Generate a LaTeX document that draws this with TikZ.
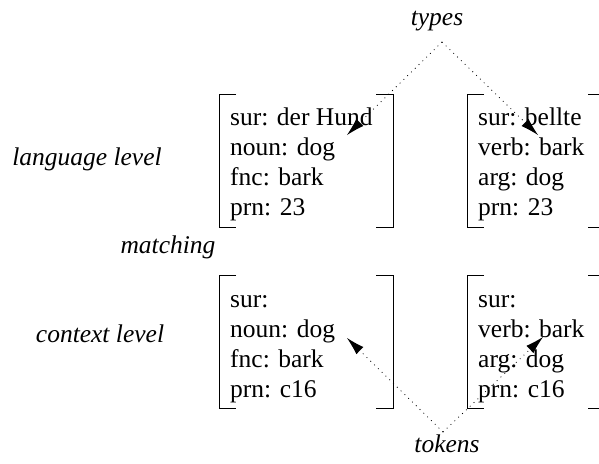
\documentclass[tikz,border=0pt]{standalone}
\usepackage{fontspec}
\setmainfont{Liberation Serif}
\usetikzlibrary{arrows.meta}
\begin{document}
\begin{tikzpicture}[x=1pt,y=-1pt,
  field/.style={anchor=base west, inner sep=0pt, font=\fontsize{25.5}{30}\selectfont},
  level/.style={anchor=base, inner sep=0pt, font=\fontsize{25.5}{30}\selectfont\itshape},
  bracket/.style={line width=0.8pt},
  link/.style={line width=0.8pt, dash pattern=on 0.8pt off 4.5pt,
    -{Latex[length=18pt,width=10pt,line width=0pt]}}]
\useasboundingbox (0,0) rectangle (599,463);
\clip (0,0) rectangle (599,463);

% feature structures: language level
\foreach \txt [count=\i] in {sur: der Hund, noun: dog, fnc: bark, prn: 23}
  \node[field] (hund-\i) at (230,95+30*\i) {\txt};
\foreach \txt [count=\i] in {sur: bellte, verb: bark, arg: dog, prn: 23}
  \node[field] (bellte-\i) at (478,95+30*\i) {\txt};

% feature structures: context level
\foreach \txt [count=\i] in {sur:, noun: dog, fnc: bark, prn: c16}
  \node[field] (dog-\i) at (230,277+30*\i) {\txt};
\foreach \txt [count=\i] in {sur:, verb: bark, arg: dog, prn: c16}
  \node[field] (bark-\i) at (478,277+30*\i) {\txt};

% square brackets
\draw[bracket] (236,94) -- (219,94) -- (219,227) -- (236,227);
\draw[bracket] (376,94) -- (393,94) -- (393,227) -- (376,227);
\draw[bracket] (484,94) -- (467,94) -- (467,227) -- (484,227);
\draw[bracket] (588,94) -- (605,94) -- (605,227) -- (588,227);
\draw[bracket] (236,275) -- (219,275) -- (219,408) -- (236,408);
\draw[bracket] (376,275) -- (393,275) -- (393,408) -- (376,408);
\draw[bracket] (484,275) -- (467,275) -- (467,408) -- (484,408);
\draw[bracket] (588,275) -- (605,275) -- (605,408) -- (588,408);

% labels
\node[level] (lang) at (87,165) {language level};
\node[level] (match) at (168,253) {matching};
\node[level] (ctx) at (100,342) {context level};
\node[level] (types) at (437,25) {types};
\node[level] (tokens) at (447,452) {tokens};

% dotted pointers
\coordinate (typesApex) at (442,42);
\coordinate (hundTip) at (347,135);
\coordinate (bellteTip) at (538,135);
\coordinate (tokensApex) at (443,432);
\coordinate (dogTip) at (347,338);
\coordinate (barkTip) at (543,337);
\draw[link] (typesApex) -- (hundTip);
\draw[link] (typesApex) -- (bellteTip);
\draw[link] (tokensApex) -- (dogTip);
\draw[link] (tokensApex) -- (barkTip);
\end{tikzpicture}
\end{document}
